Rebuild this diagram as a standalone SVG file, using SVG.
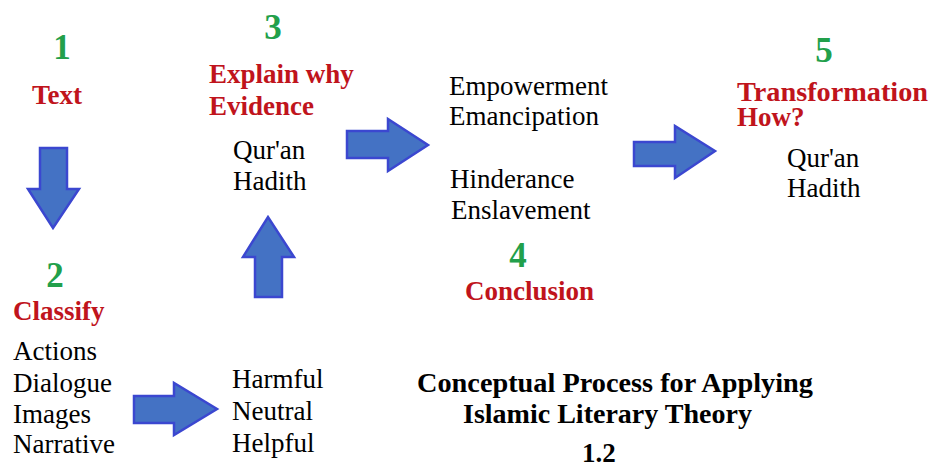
<svg xmlns="http://www.w3.org/2000/svg" width="931" height="468" viewBox="0 0 931 468">
<style>
text{font-family:"Liberation Serif","Times New Roman",Tinos,serif}
.num{font-weight:bold;font-size:35px;fill:#22A04B;text-anchor:middle}
.hd{font-weight:bold;font-size:27px;fill:#C0141C}
.tx{font-weight:normal;font-size:27px;fill:#000}
.ti{font-weight:bold;font-size:27px;fill:#000}
.ar{fill:#4472C4;stroke:#3B47D0;stroke-width:2.5;stroke-linejoin:miter}
</style>
<rect width="931" height="468" fill="#fff"/>
<g id="n1">
<text class="num" x="62" y="59">1</text>
<text class="hd" x="57" y="104" text-anchor="middle">Text</text>
</g>
<g id="n2">
<text class="num" x="55" y="287">2</text>
<text class="hd" x="13" y="320">Classify</text>
<text class="tx" x="13" y="360">Actions</text>
<text class="tx" x="13" y="392">Dialogue</text>
<text class="tx" x="13" y="423">Images</text>
<text class="tx" x="13" y="453">Narrative</text>
</g>
<g id="n2b">
<text class="tx" x="232" y="388">Harmful</text>
<text class="tx" x="232" y="420">Neutral</text>
<text class="tx" x="232" y="452">Helpful</text>
</g>
<g id="n3">
<text class="num" x="273" y="39">3</text>
<text class="hd" x="209" y="83">Explain why</text>
<text class="hd" x="209" y="115">Evidence</text>
<text class="tx" x="233" y="159">Qur'an</text>
<text class="tx" x="233" y="190">Hadith</text>
</g>
<g id="n4">
<text class="tx" x="449" y="95">Empowerment</text>
<text class="tx" x="449" y="125">Emancipation</text>
<text class="tx" x="450" y="188">Hinderance</text>
<text class="tx" x="451" y="219">Enslavement</text>
<text class="num" x="518" y="267">4</text>
<text class="hd" x="465" y="300">Conclusion</text>
</g>
<g id="n5">
<text class="num" x="824" y="62">5</text>
<text class="hd" x="737" y="101" textLength="191" lengthAdjust="spacingAndGlyphs">Transformation</text>
<text class="hd" x="737" y="126">How?</text>
<text class="tx" x="787" y="167">Qur'an</text>
<text class="tx" x="787" y="197">Hadith</text>
</g>
<g id="title">
<text class="ti" x="417" y="392" textLength="396" lengthAdjust="spacingAndGlyphs">Conceptual Process for Applying</text>
<text class="ti" x="463" y="423" textLength="289" lengthAdjust="spacingAndGlyphs">Islamic Literary Theory</text>
<text class="ti" x="582" y="462">1.2</text>
</g>
<g id="connectors">
<polygon class="ar" points="40,148 67,148 67,189 79,189 53,228 28,189 40,189"/>
<polygon class="ar" points="134,396 174,396 174,383 217,409 174,435 174,423 134,423"/>
<polygon class="ar" points="255,297 282,297 282,257 294,257 268,217 243,257 255,257"/>
<polygon class="ar" points="347,131 388,131 388,119 428,145 388,171 388,158 347,158"/>
<polygon class="ar" points="634,142 675,142 675,126 715,151 675,178 675,166 634,166"/>
</g>
</svg>
